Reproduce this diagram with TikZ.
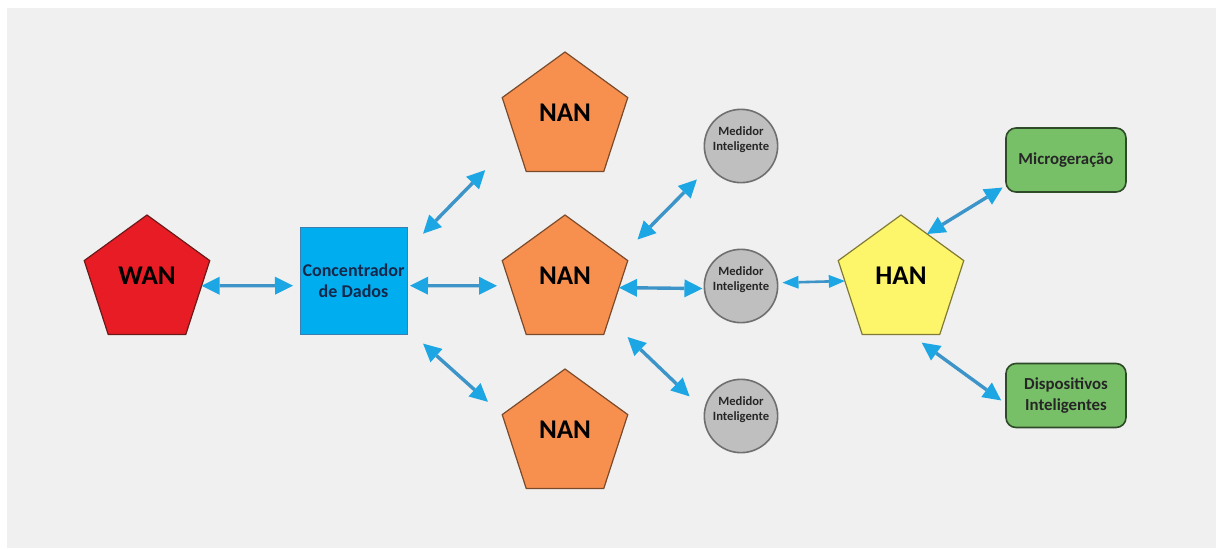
\documentclass[tikz,border=0pt]{standalone}
\usepackage{fontspec}
\setmainfont{Carlito}
\usetikzlibrary{arrows.meta, positioning, shapes.geometric}

\definecolor{bggray}{HTML}{F0F0F0}
\definecolor{wanred}{HTML}{E81C24}
\definecolor{wanedge}{HTML}{6B1A1A}
\definecolor{concblue}{HTML}{00AEEF}
\definecolor{concedge}{HTML}{3A7FB0}
\definecolor{conctext}{HTML}{14284B}
\definecolor{nanorange}{HTML}{F7904F}
\definecolor{nanedge}{HTML}{7A4A2A}
\definecolor{medgray}{HTML}{BFBFBF}
\definecolor{mededge}{HTML}{6F6F6F}
\definecolor{hanyellow}{HTML}{FDF56A}
\definecolor{hanedge}{HTML}{807A35}
\definecolor{devgreen}{HTML}{78C068}
\definecolor{devedge}{HTML}{2E4A28}
\definecolor{shaftblue}{HTML}{3D94C8}
\definecolor{headblue}{HTML}{1DA6E4}

\begin{document}
\begin{tikzpicture}[on grid]
  \tikzset{
    pent/.style={
      regular polygon,
      regular polygon sides=5,
      draw,
      line width=0.6pt,
      minimum size=66pt,
      inner sep=0pt,
      outer sep=0pt,
      text depth=5pt,
      font=\fontsize{13.5}{16}\selectfont\bfseries},
    sqr/.style={
      rectangle,
      draw=concedge,
      fill=concblue,
      line width=0.5pt,
      minimum size=53.5pt,
      inner sep=0pt,
      outer sep=0pt,
      align=center,
      text=conctext,
      font=\fontsize{9}{10.5}\selectfont\bfseries},
    circ/.style={
      circle,
      draw=mededge,
      fill=medgray,
      line width=0.8pt,
      minimum size=34pt,
      inner sep=1pt,
      outer sep=0pt,
      align=center,
      text depth=7pt,
      text=black!85,
      font=\fontsize{6.3}{7.5}\selectfont\bfseries},
    rbox/.style={
      rectangle,
      rounded corners=5pt,
      draw=devedge,
      fill=devgreen,
      line width=0.8pt,
      minimum width=60pt,
      minimum height=32pt,
      inner sep=0pt,
      outer sep=0pt,
      align=center,
      text=black!85,
      font=\fontsize{8.4}{10.5}\selectfont\bfseries},
    link/.style={
      draw=shaftblue,
      line width=1.7pt,
      >={Triangle[length=9pt,width=9pt,color=headblue,line width=0pt]},
      <->}}

  % page and grey panel
  \fill[white] (-73.5pt,140.5pt) rectangle (534.5pt,-133.5pt);
  \fill[bggray] (-70pt,136.5pt) rectangle (534.5pt,-133.5pt);

  \node[pent, draw=wanedge, fill=wanred] (wan) at (0,0) {WAN};
  \node[sqr] (conc) [right=103.25pt of wan] {Concentrador\\de Dados};

  \node[pent, draw=nanedge, fill=nanorange] (nanm) [right=105.75pt of conc] {NAN};
  \node[pent, draw=nanedge, fill=nanorange] (nant) [above=81.5pt of nanm] {NAN};
  \node[pent, draw=nanedge, fill=nanorange] (nanb) [below=77pt of nanm] {NAN};

  \node[circ] (medm) [below right=2.5pt and 88pt of nanm] {Medidor\\Inteligente};
  \node[circ] (medt) [above=70pt of medm] {Medidor\\Inteligente};
  \node[circ] (medb) [below=65pt of medm] {Medidor\\Inteligente};

  \node[pent, draw=hanedge, fill=hanyellow] (han) [above right=2.5pt and 80pt of medm] {HAN};

  \node[rbox] (micro) [above right=60.5pt and 82.5pt of han] {Microgeração};
  \node[rbox] (disp) [below right=57.25pt and 82.5pt of han] {Dispositivos\\Inteligentes};

  % WAN to the data concentrator
  \draw[link, shorten >=3.5pt] (wan.-5) -- (conc.185);

  % concentrator to the three NANs
  \draw[link, shorten <=1.5pt, shorten >=6.7pt] (conc.-5) -- (nanm.185);
  \draw[link, shorten <=11.5pt, shorten >=21.8pt] (conc.30) -- (nant.203);
  \draw[link, shorten <=10.8pt, shorten >=9.6pt] (conc.-42) -- (nanb.162);

  % NAN to the smart meters
  \draw[link, shorten <=11.5pt, shorten >=9.5pt] (nanm.24) -- (medt.213);
  \draw[link, shorten >=1pt] (nanm.-7) -- (medm.184);
  \draw[link, shorten <=13pt, shorten >=10.5pt] (nanm.-41) -- (medb.172);

  % meter to HAN, HAN to its devices
  \draw[link, line width=1.3pt, >={Triangle[length=8pt,width=6.5pt,color=headblue,line width=0pt]},
    shorten <=2.5pt] (medm.5) -- (han.180);
  \draw[link, shorten >=2pt] (han.61) -- (micro.203);
  \draw[link, shorten <=7pt, shorten >=3pt] (han.-80) -- (disp.188);

\end{tikzpicture}
\end{document}
